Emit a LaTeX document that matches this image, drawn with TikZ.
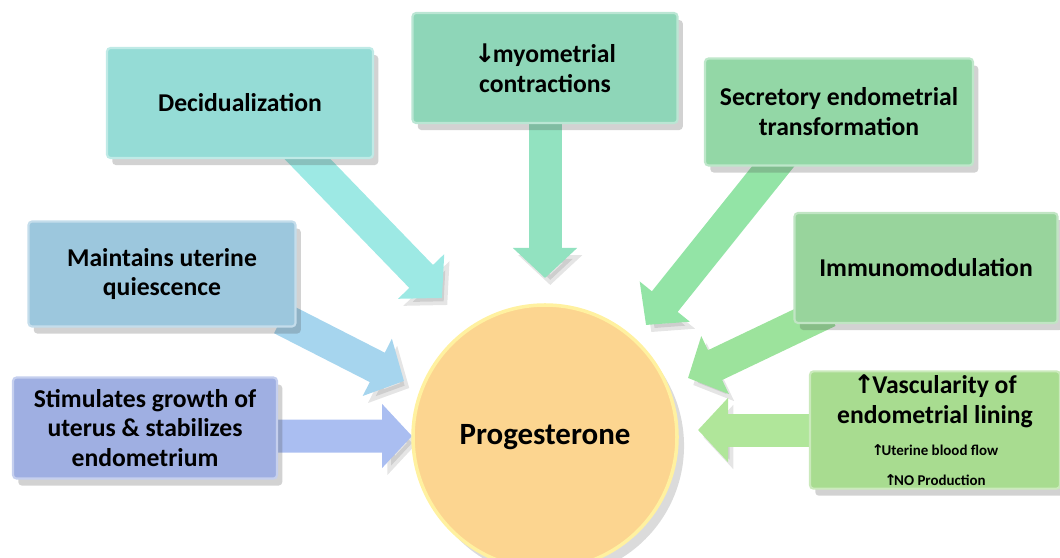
\documentclass[tikz,border=0pt]{standalone}
\usepackage{fontspec}
\setmainfont{Carlito}
\newfontfamily\arrowfont{DejaVu Sans}
\usetikzlibrary{arrows.meta,shadows,backgrounds}

\definecolor{decfill}{HTML}{95DCD6}
\definecolor{decarrow}{HTML}{9DE9E4}
\definecolor{myofill}{HTML}{8ED6B8}
\definecolor{myoarrow}{HTML}{92E2C0}
\definecolor{secfill}{HTML}{93D7A6}
\definecolor{secarrow}{HTML}{93E4A6}
\definecolor{maintfill}{HTML}{9CC7DD}
\definecolor{maintarrow}{HTML}{A6D5EE}
\definecolor{immfill}{HTML}{98D49C}
\definecolor{immarrow}{HTML}{9CE39C}
\definecolor{stimfill}{HTML}{9FAFE2}
\definecolor{stimarrow}{HTML}{AABEF1}
\definecolor{vascfill}{HTML}{A8DC90}
\definecolor{vascarrow}{HTML}{B0E69A}
\definecolor{progfill}{HTML}{FCD590}
\definecolor{progrim}{HTML}{FFF1A0}

\newcommand{\boxfont}{\bfseries\fontsize{14.6}{17}\selectfont}
\newcommand{\smallboxfont}{\bfseries\fontsize{8.5}{13.5}\selectfont}
\newcommand{\up}{{\arrowfont\bfseries ↑}\hspace{-1.5pt}}
\newcommand{\down}{{\arrowfont\bfseries ↓}\hspace{-1.5pt}}

\begin{document}
\begin{tikzpicture}[
    box/.style={rectangle, rounded corners=2pt, align=center, font=\boxfont,
      inner sep=2pt, line width=1.2pt,
      drop shadow={shadow xshift=3pt, shadow yshift=-4pt, opacity=.25, fill=black!70}},
    fatarrow/.style={line width=0.66cm, -{Triangle[width=1.25cm,length=0.6cm]},
      preaction={draw=black, opacity=.1, transform canvas={xshift=3pt,yshift=-4pt}}}
  ]
  \path[use as bounding box, clip] (0,0) rectangle (21.2,11.14);

  % Centre
  \node[circle, minimum size=5.28cm, fill=progfill, draw=progrim, line width=2pt,
    font=\bfseries\fontsize{17.6}{20}\selectfont,
    drop shadow={shadow xshift=4pt, shadow yshift=-5pt, opacity=.2, fill=black!70}]
    (prog) at (10.90,2.40) {Progesterone};

  % Effects, left column
  \node[box, fill=decfill, draw=decfill!60!white, minimum width=5.32cm, minimum height=2.2cm]
    (dec) at (4.80,9.08) {Decidualization};
  \node[box, fill=maintfill, draw=maintfill!60!white, minimum width=5.34cm, minimum height=2.1cm]
    (maint) at (3.24,5.66) {Maintains uterine\\quiescence};
  \node[box, fill=stimfill, draw=stimfill!60!white, minimum width=5.28cm, minimum height=2.02cm]
    (stim) at (2.90,2.58) {Stimulates growth of\\uterus \& stabilizes\\endometrium};

  % Effects, top
  \node[box, fill=myofill, draw=myofill!60!white, minimum width=5.3cm, minimum height=2.2cm]
    (myo) at (10.90,9.78) {\down myometrial\\contractions};

  % Effects, right column
  \node[box, fill=secfill, draw=secfill!60!white, minimum width=5.36cm, minimum height=2.14cm]
    (sec) at (16.78,8.90) {Secretory endometrial\\transformation};
  \node[box, fill=immfill, draw=immfill!60!white, minimum width=5.26cm, minimum height=2.2cm]
    (imm) at (18.52,5.78) {Immunomodulation};
  \node[box, fill=vascfill, draw=vascfill!60!white, minimum width=5.0cm, minimum height=2.3cm]
    (vasc) at (18.70,2.54) {\up Vascularity of\\endometrial lining\\[1pt]
      \smallboxfont\up Uterine blood flow\\\smallboxfont\up NO Production};

  % Arrow tips next to the circle
  \coordinate (tDec) at (8.84,5.18);
  \coordinate (tMyo) at (10.90,5.58);
  \coordinate (tSec) at (12.92,4.64);
  \coordinate (tMaint) at (8.08,3.52);
  \coordinate (tImm) at (13.76,3.58);
  \coordinate (tStim) at (8.24,2.42);
  \coordinate (tVasc) at (13.96,2.54);

  % Block arrows, behind the boxes
  \begin{scope}[on background layer]
    \draw[fatarrow, decarrow] ([xshift=1.06cm,yshift=0.3cm]dec.south) -- (tDec);
    \draw[fatarrow, myoarrow] ([yshift=0.3cm]myo.south) -- (tMyo);
    \draw[fatarrow, secarrow] ([xshift=-1.08cm,yshift=0.3cm]sec.south) -- (tSec);
    \draw[fatarrow, maintarrow] ([xshift=-0.3cm,yshift=0.18cm]maint.south east) -- (tMaint);
    \draw[fatarrow, immarrow] ([xshift=0.7cm,yshift=0.26cm]imm.south west) -- (tImm);
    \draw[fatarrow, stimarrow] ([xshift=-0.3cm,yshift=-0.16cm]stim.east) -- (tStim);
    \draw[fatarrow, vascarrow] ([xshift=0.3cm]vasc.west) -- (tVasc);
  \end{scope}
\end{tikzpicture}
\end{document}
